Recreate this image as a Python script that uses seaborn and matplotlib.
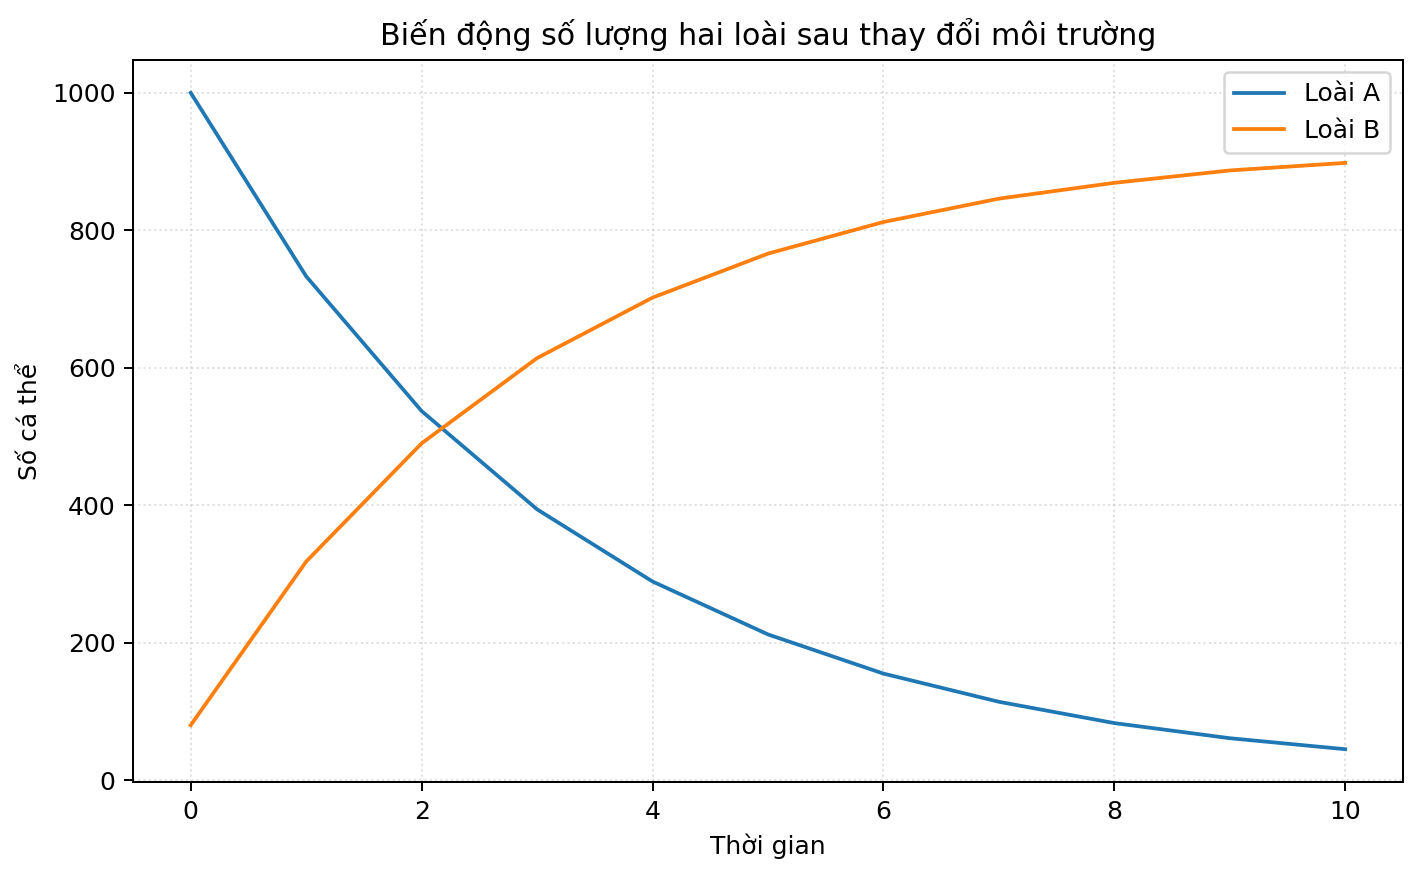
import matplotlib
matplotlib.use("Agg")
import matplotlib.pyplot as plt
import seaborn as sns
import pandas as pd

# Data
thoi_gian = [0, 1, 2, 3, 4, 5, 6, 7, 8, 9, 10]
loai_a = [1000, 733, 537, 394, 289, 212, 155, 114, 83, 61, 45]
loai_b = [80, 318, 490, 614, 702, 766, 812, 846, 869, 887, 898]

df = pd.DataFrame({"Thời gian": thoi_gian * 2,
                   "Số cá thể": loai_a + loai_b,
                   "Loài": ["Loài A"] * len(loai_a) + ["Loài B"] * len(loai_b)})

plt.rcParams['font.family'] = ['DejaVu Sans']

fig, ax = plt.subplots(figsize=(1421 / 180, 878 / 180), dpi=180)
sns.lineplot(data=df, x="Thời gian", y="Số cá thể", hue="Loài",
             palette=["#1f77b4", "#ff7f0e"], ax=ax)

ax.set_title("Biến động số lượng hai loài sau thay đổi môi trường")
ax.set_xlabel("Thời gian")
ax.set_ylabel("Số cá thể")
ax.grid(True, linestyle=":", alpha=0.4)
ax.legend(title=None, loc="upper right")

fig.subplots_adjust(left=0.0936, right=0.9873, top=0.9317, bottom=0.1093)
plt.savefig("out.png", dpi=180)
